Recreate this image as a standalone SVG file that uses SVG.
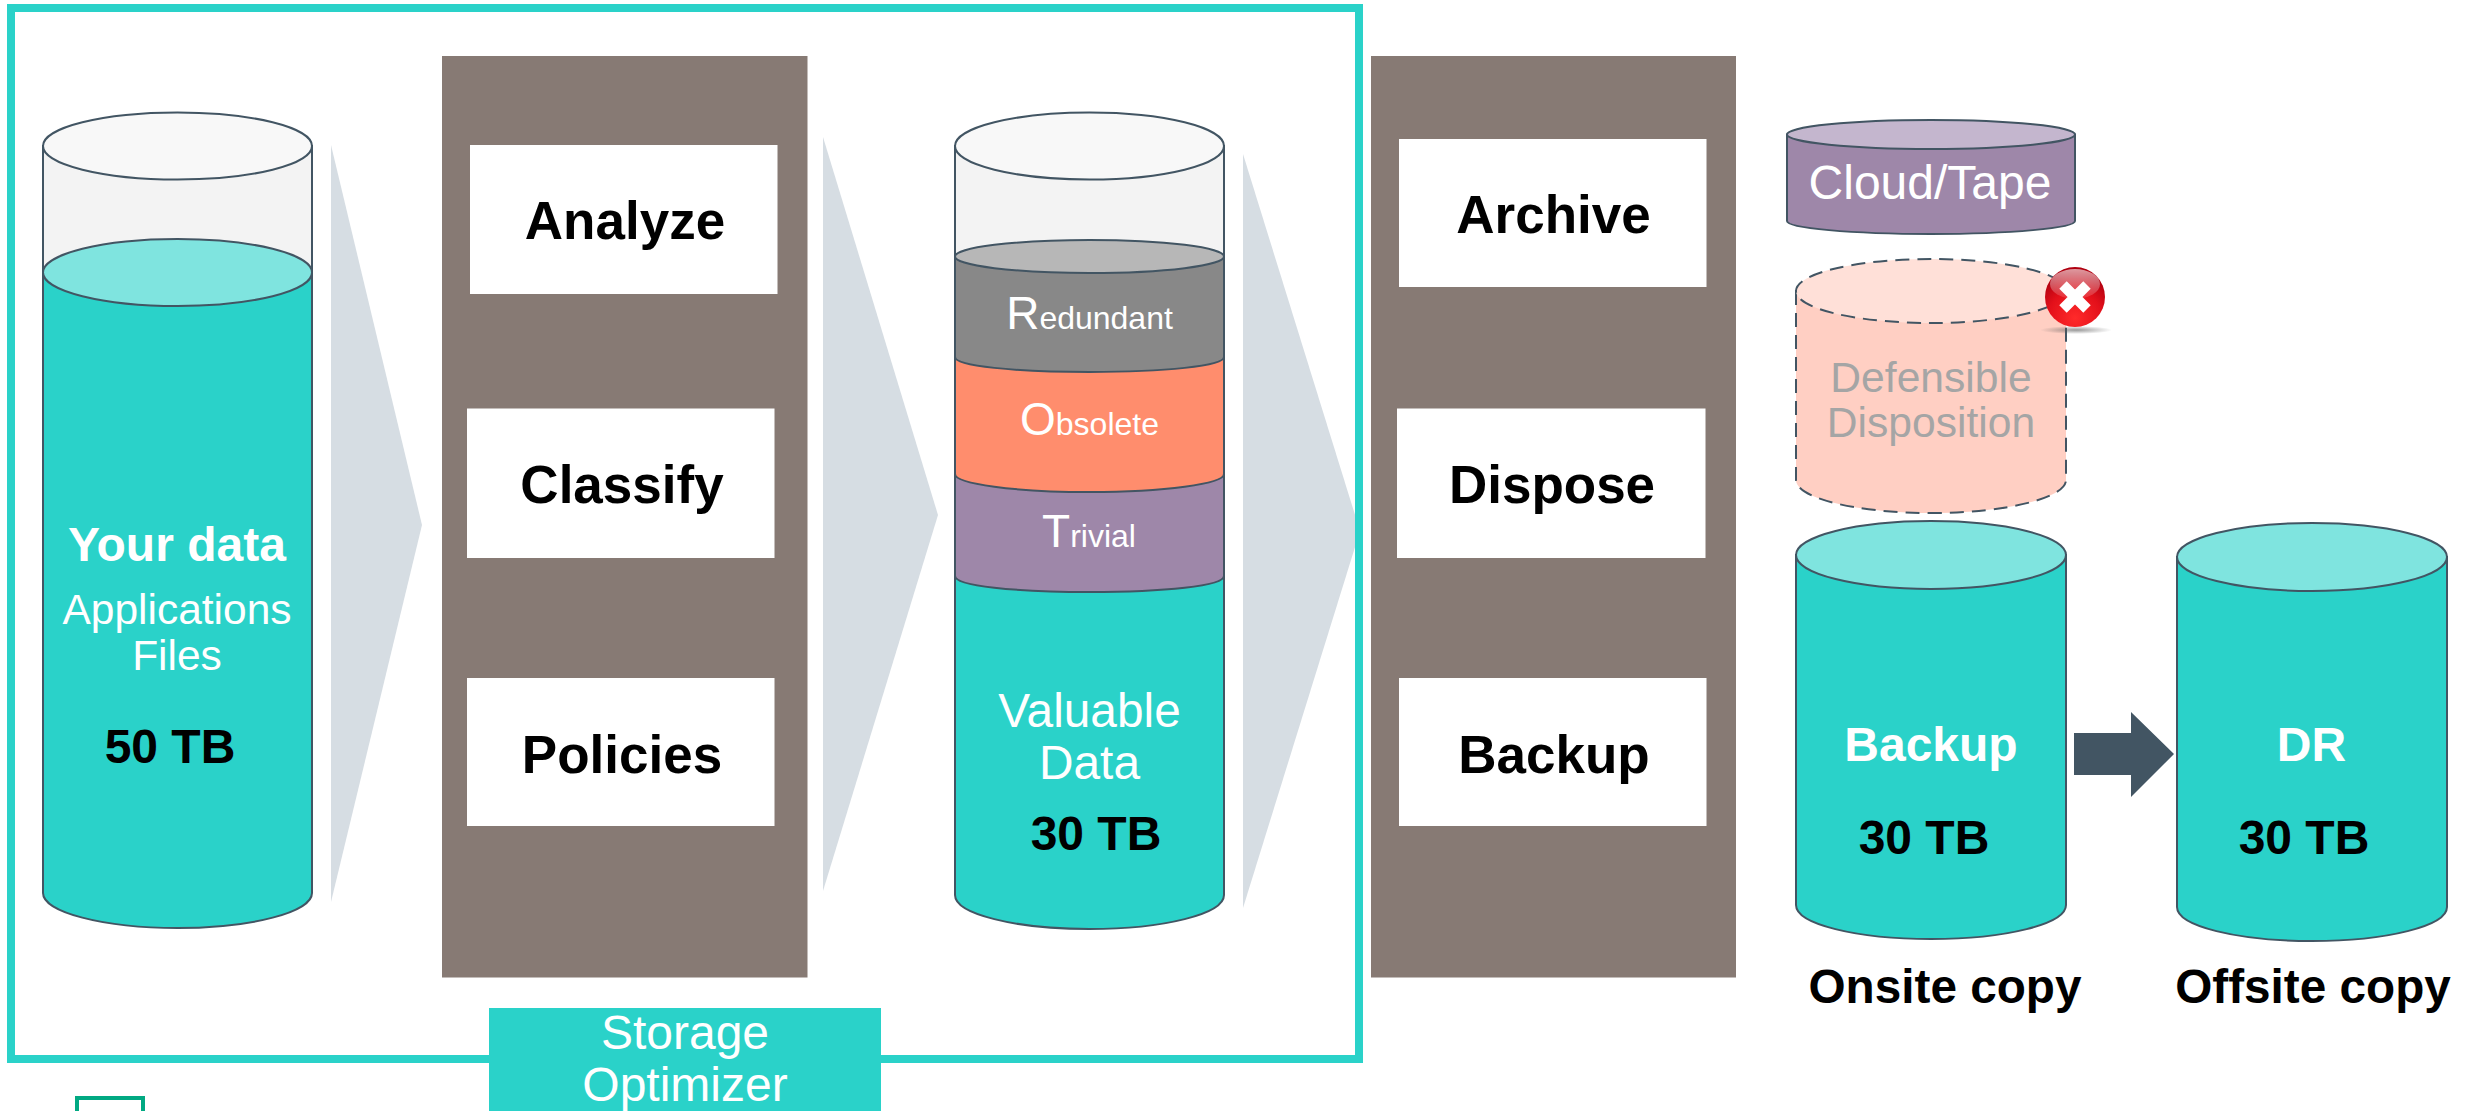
<svg xmlns="http://www.w3.org/2000/svg" width="2473" height="1111" viewBox="0 0 2473 1111">
<style>
text{font-family:"Liberation Sans",Arial,sans-serif;text-anchor:middle}
.b{font-weight:700}
.t47{font-size:48px}
.t53{font-size:53px;font-weight:700;fill:#000}
.w{fill:#fff}
.k{fill:#000}
.ln{stroke:#425563;stroke-width:2}
.teal{fill:#2AD2C9}
.lt{fill:#7FE4DF}
.panel{fill:#877A74}
.chev{fill:#D6DDE3}
.box{fill:#fff}
.sm{font-size:32px}
.bg{font-size:46px}
</style>
<defs>
<radialGradient id="red" cx="50%" cy="85%" r="75%"><stop offset="0" stop-color="#FF2A2A"/><stop offset="0.6" stop-color="#E3101A"/><stop offset="1" stop-color="#B00010"/></radialGradient>
<linearGradient id="gloss" x1="0" y1="0" x2="0" y2="1"><stop offset="0" stop-color="#fff" stop-opacity=".6"/><stop offset="1" stop-color="#fff" stop-opacity=".1"/></linearGradient>
<radialGradient id="shade"><stop offset="0" stop-color="#555" stop-opacity=".6"/><stop offset="1" stop-color="#555" stop-opacity="0"/></radialGradient>
</defs>
<rect width="2473" height="1111" fill="#fff"/>
<g id="connectors">
<polygon class="chev" points="331,145 422,525 331,902"/>
<polygon class="chev" points="823,137 938,515 823,891"/>
<polygon class="chev" points="1243,154 1360,531 1243,908"/>
<polygon fill="#425563" points="2074,733 2131,733 2131,712 2174,754 2131,797 2131,775 2074,775"/>
</g>
<g id="storage-optimizer-frame">
<rect x="11" y="8" width="1348" height="1051" fill="none" stroke="#2AD2C9" stroke-width="8"/>
</g>
<g id="your-data">
<path class="ln" fill="#F3F3F3" d="M43,146V272H312V146Z"/>
<ellipse class="ln" cx="177.500" cy="146" rx="134.500" ry="33.500" fill="#F8F8F8"/>
<path class="ln teal" d="M43,272.500V893C43,912 103,928 177.500,928S312,912 312,893V272.500Z"/>
<ellipse class="ln lt" cx="177.500" cy="272.500" rx="134.500" ry="33.500"/>
<text class="b w t47" x="177" y="561">Your data</text>
<text class="w" font-size="42.500" x="177" y="624">Applications</text>
<text class="w" font-size="42.500" x="177" y="670">Files</text>
<text class="b k t47" x="170" y="763">50 TB</text>
</g>
<g id="panel-left">
<rect class="panel" x="442" y="56" width="365.500" height="921.500"/>
</g>
<g id="analyze"><rect class="box" x="470" y="145" width="307.500" height="149"/><text class="t53" x="625" y="239">Analyze</text></g>
<g id="classify"><rect class="box" x="467" y="408.500" width="307.500" height="149.500"/><text class="t53" x="622" y="503">Classify</text></g>
<g id="policies"><rect class="box" x="467" y="678" width="307.500" height="148"/><text class="t53" x="622" y="772.500">Policies</text></g>
<g id="rot-cylinder">
<path class="ln" fill="#F3F3F3" d="M955,146V257H1224V146Z"/>
<ellipse class="ln" cx="1089.500" cy="146" rx="134.500" ry="33.500" fill="#F8F8F8"/>
<path class="ln teal" d="M955,560V895C955,914 1015,929 1089.500,929S1224,914 1224,895V560Z"/>
<path class="ln" fill="#9E87A9" d="M955,460V576C955,586 1015,592 1089.500,592S1224,586 1224,576V460Z"/>
<path class="ln" fill="#FF8D6D" d="M955,340V474C955,484 1015,492 1089.500,492S1224,484 1224,474V340Z"/>
<path class="ln" fill="#888888" d="M955,256V357C955,366 1015,372 1089.500,372S1224,366 1224,357V256Z"/>
<ellipse class="ln" cx="1089.500" cy="256.500" rx="134.500" ry="16.500" fill="#B7B7B7"/>
<text class="w" x="1089.500" y="329"><tspan class="bg">R</tspan><tspan class="sm">edundant</tspan></text>
<text class="w" x="1089.500" y="435"><tspan class="bg">O</tspan><tspan class="sm">bsolete</tspan></text>
<text class="w" x="1089" y="547"><tspan class="bg">T</tspan><tspan class="sm">rivial</tspan></text>
<text class="w" font-size="47.800" x="1089.500" y="726.500">Valuable</text>
<text class="w" font-size="47.800" x="1089.500" y="778.500">Data</text>
<text class="b k t47" x="1096" y="849.500">30 TB</text>
</g>
<g id="panel-right">
<rect class="panel" x="1371" y="56" width="365" height="921.500"/>
</g>
<g id="archive"><rect class="box" x="1399" y="139" width="307.500" height="148"/><text class="t53" x="1553.500" y="233">Archive</text></g>
<g id="dispose"><rect class="box" x="1397" y="408.500" width="308.500" height="149.500"/><text class="t53" x="1552" y="503">Dispose</text></g>
<g id="backup"><rect class="box" x="1399" y="678" width="307.500" height="148"/><text class="t53" x="1554" y="772.500">Backup</text></g>
<g id="cloud-tape">
<path class="ln" fill="#9E87A9" d="M1787,134.500V221C1787,228 1851,234 1931,234S2075,228 2075,221V134.500Z"/>
<ellipse class="ln" cx="1931" cy="134.500" rx="144" ry="14.500" fill="#C4B6CE"/>
<text class="w" font-size="48" x="1930" y="199">Cloud/Tape</text>
</g>
<g id="defensible-disposition">
<path d="M1796,291V480C1796,498 1856,513 1931,513S2066,498 2066,480V291Z" fill="#FFCFC3" stroke="#425563" stroke-width="2" stroke-dasharray="14 8"/>
<ellipse cx="1931" cy="291" rx="135" ry="32" fill="#FFE0D8" stroke="#425563" stroke-width="2" stroke-dasharray="14 8"/>
<text fill="#A5A5A5" font-size="42.600" x="1931" y="392">Defensible</text>
<text fill="#A5A5A5" font-size="42.600" x="1931" y="437">Disposition</text>
<ellipse cx="2076" cy="330" rx="36" ry="4" fill="url(#shade)"/>
<circle cx="2075" cy="297" r="30" fill="url(#red)"/>
<ellipse cx="2075" cy="284" rx="25" ry="15" fill="url(#gloss)"/>
<path d="M2063,285L2075,297L2087,285M2063,309L2075,297L2087,309" fill="none" stroke="#fff" stroke-width="10.500"/>
</g>
<g id="backup-copy">
<path class="ln teal" d="M1796,555V905C1796,924 1856,939 1931,939S2066,924 2066,905V555Z"/>
<ellipse class="ln lt" cx="1931" cy="555" rx="135" ry="34"/>
<text class="b w t47" x="1931" y="761">Backup</text>
<text class="b k t47" x="1924" y="854">30 TB</text>
<text class="b k" font-size="47.700" x="1945" y="1003">Onsite copy</text>
</g>
<g id="dr-copy">
<path class="ln teal" d="M2177,557V907C2177,926 2237,941 2312,941S2447,926 2447,907V557Z"/>
<ellipse class="ln lt" cx="2312" cy="557" rx="135" ry="34"/>
<text class="b w t47" x="2311.500" y="761">DR</text>
<text class="b k t47" x="2304" y="854">30 TB</text>
<text class="b k" font-size="47.700" x="2313" y="1003">Offsite copy</text>
</g>
<g id="storage-optimizer-label">
<rect class="teal" x="489" y="1008" width="392" height="103"/>
<text class="w" font-size="48" x="685" y="1048.500">Storage</text>
<text class="w" font-size="48" x="685" y="1100.500">Optimizer</text>
</g>
<g id="hpe-logo-fragment">
<path d="M77,1111V1098H143V1111" fill="none" stroke="#01A982" stroke-width="4"/>
</g>
</svg>
